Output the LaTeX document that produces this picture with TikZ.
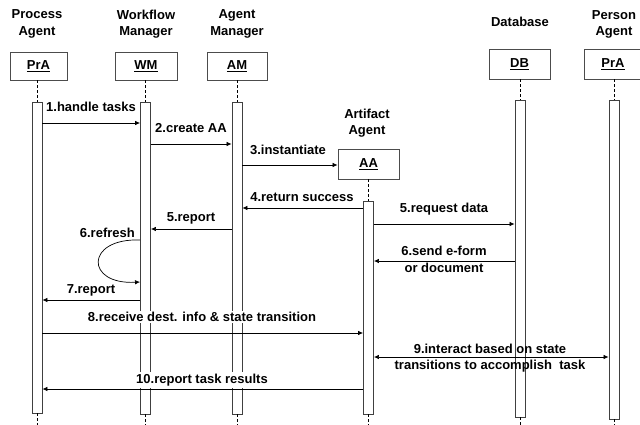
\documentclass[tikz,border=0pt]{standalone}
\usepackage{fontspec}
\setmainfont{Liberation Sans}
\usetikzlibrary{arrows.meta}
\begin{document}
\begin{tikzpicture}[x=1pt,y=-1pt,
  font=\bfseries\fontsize{13}{16.5}\selectfont,
  obj/.style={draw=black!70, fill=white, line width=0.9pt, inner sep=0pt, minimum height=29pt},
  bar/.style={draw=black!75, fill=white, line width=0.9pt, inner sep=0pt, minimum width=10pt},
  life/.style={line width=0.8pt, dash pattern=on 3pt off 2pt},
  msg/.style={line width=0.7pt, -{Latex[length=5pt,width=4.5pt]}},
  msgtwo/.style={line width=0.7pt, {Latex[length=5pt,width=4.5pt]}-{Latex[length=5pt,width=4.5pt]}},
  ttl/.style={align=center, inner sep=0pt},
  lbl/.style={inner sep=0pt, anchor=base},
  wlbl/.style={inner sep=1.5pt, anchor=base, fill=white}]
\useasboundingbox (0,0) rectangle (640,425);

% titles
\node[ttl] (t1) at (37,24) {Process\\Agent};
\node[ttl] (t2) at (146,24) {Workflow\\Manager};
\node[ttl] (t3) at (237,24) {Agent\\Manager};
\node[lbl] (t4) at (520,26.7) {Database};
\node[ttl] (t5) at (614,24.3) {Person\\Agent};
\node[ttl] (t6) at (367,123.3) {Artifact\\Agent};

% object boxes
\node[obj, minimum width=57pt, minimum height=28pt] (o1) at (38.5,66) {\underline{PrA}};
\node[obj, minimum width=62pt, minimum height=28pt] (o2) at (146,66) {\underline{WM}};
\node[obj, minimum width=60pt, minimum height=28pt] (o3) at (237,66) {\underline{AM}};
\node[obj, minimum width=61pt, minimum height=30pt] (o4) at (519.5,64) {\underline{DB}};
\node[obj, minimum width=58pt, minimum height=30pt] (o5) at (613,64) {\underline{PrA}};

% activation bars
\node[bar, minimum height=311pt] (b1) at (37,257.5) {};
\node[bar, minimum height=312pt] (b2) at (145.5,258) {};
\node[bar, minimum height=312pt] (b3) at (237,258) {};
\node[bar, minimum height=317pt] (b4) at (520,258.5) {};
\node[bar, minimum height=319pt] (b5) at (614,259.5) {};
\node[bar, minimum height=213pt] (b6) at (368.5,307.5) {};

\node[obj, minimum width=61pt, minimum height=30pt] (o6) at (368.5,164) {\underline{AA}};

% lifelines
\coordinate (e1) at (37,425);
\coordinate (e2) at (145.5,425);
\coordinate (e3) at (237,425);
\coordinate (e4) at (520,425);
\coordinate (e5) at (614,425);
\coordinate (e6) at (368.5,425);
\draw[life] (o1.south -| b1.north) -- (b1.north);
\draw[life] (o2.south -| b2.north) -- (b2.north);
\draw[life] (o3.south -| b3.north) -- (b3.north);
\draw[life] (o4.south -| b4.north) -- (b4.north);
\draw[life] (o5.south -| b5.north) -- (b5.north);
\draw[life] (o6.south -| b6.north) -- (b6.north);
\draw[life] (b1.south) -- (e1);
\draw[life] (b2.south) -- (e2);
\draw[life] (b3.south) -- (e3);
\draw[life] (b4.south) -- (e4);
\draw[life] (b5.south) -- (e5);
\draw[life] (b6.south) -- (e6);

% messages
\draw[msg] (b1.east |- 0,123) -- (b2.west |- 0,123);
\node[lbl] (m1) at (91,112) {1.handle tasks};

\draw[msg] (b2.east |- 0,144) -- (b3.west |- 0,144);
\node[lbl] (m2) at (191,133) {2.create AA};

\draw[msg] (b3.east |- 0,165) -- (o6.west |- 0,165);
\node[lbl] (m3) at (288,155) {3.instantiate};

\draw[msg] (b6.west |- 0,208) -- (b3.east |- 0,208);
\node[lbl] (m4) at (302,201) {4.return success};

\draw[msg] (b3.west |- 0,229) -- (b2.east |- 0,229);
\node[lbl] (m5) at (191,221.7) {5.report};

\draw[msg] (b6.east |- 0,224) -- (b4.west |- 0,224);
\node[lbl] (m5b) at (444,212.7) {5.request data};

\draw[msg] (b4.west |- 0,261) -- (b6.east |- 0,261);
\node[ttl] (m6b) at (444,259.5) {6.send e-form\\or document};

\draw[msg] (b2.west |- 0,240) .. controls (85,238) and (85,285) .. (b2.west |- 0,282);
\node[lbl, anchor=base east] (m6) at (135,237.7) {6.refresh};

\draw[msg] (b2.west |- 0,300) -- (b1.east |- 0,300);
\node[lbl] (m7) at (91,293.3) {7.report};

\draw[msg] (b1.east |- 0,333) -- (b6.west |- 0,333);
\node[wlbl] (m8) at (202,321.7) {8.receive dest. info \& state transition};

\draw[msgtwo] (b6.east |- 0,357) -- (b5.west |- 0,357);
\node[ttl] (m9) at (490,358) {9.interact based on state\\transitions to accomplish\ \ task};

\draw[msg] (b6.west |- 0,389) -- (b1.east |- 0,389);
\node[wlbl] (m10) at (202,383.3) {10.report task results};
\end{tikzpicture}
\end{document}
